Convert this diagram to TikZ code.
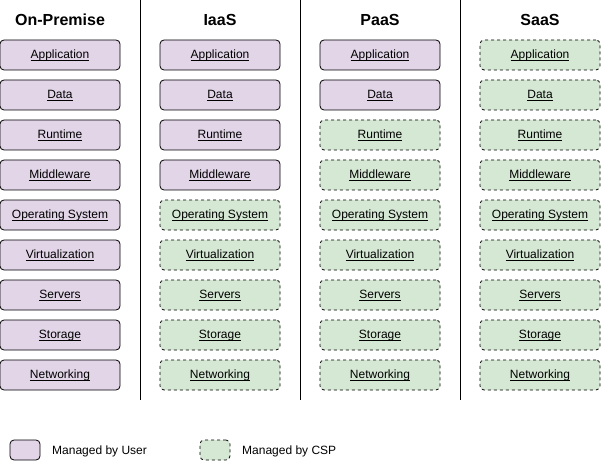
\documentclass[tikz,border=0pt]{standalone}
\usepackage{fontspec}
\setmainfont{Liberation Sans}
\definecolor{userfill}{HTML}{E1D5E7}
\definecolor{cspfill}{HTML}{D5E8D4}
\newcommand\myul[1]{\setbox0\hbox{#1}\rlap{\rule[-2.6pt]{\wd0}{0.7pt}}\box0}
\begin{document}
\begin{tikzpicture}[x=1pt,y=-1pt,
  layer/.style={draw=black, line width=0.8pt, rounded corners=4pt, minimum width=120pt, minimum height=30pt, inner sep=0pt, text height=9.5pt, text depth=2.5pt, font=\fontsize{12}{14}\selectfont},
  userbox/.style={layer, fill=userfill},
  cspbox/.style={layer, fill=cspfill, dash pattern=on 3pt off 3pt},
  header/.style={font=\fontsize{16}{19}\selectfont\bfseries, text height=12pt, text depth=3pt, inner sep=0pt},
  sep/.style={draw=black, line width=0.8pt},
  legbox/.style={draw=black, line width=0.8pt, rounded corners=4pt, minimum width=30pt, minimum height=20pt, inner sep=0pt},
  legtext/.style={anchor=west, font=\fontsize{12}{14}\selectfont, inner sep=0pt, text height=9.5pt, text depth=2.5pt}
]
\useasboundingbox (0,0) rectangle (601,462);
% headers
\node[header] (h0) at (60,21) {On-Premise};
\node[header] (h1) at (220,21) {IaaS};
\node[header] (h2) at (380,21) {PaaS};
\node[header] (h3) at (540,21) {SaaS};
% separators
\coordinate (s1a) at (140,0); \coordinate (s1b) at (140,400);
\coordinate (s2a) at (300,0); \coordinate (s2b) at (300,400);
\coordinate (s3a) at (460,0); \coordinate (s3b) at (460,400);
\draw[sep] (s1a) -- (s1b);
\draw[sep] (s2a) -- (s2b);
\draw[sep] (s3a) -- (s3b);
% layers
\foreach \col/\nuser in {0/9,1/4,2/2,3/0} {
  \foreach \lbl [count=\r from 0] in {Application,Data,Runtime,Middleware,Operating System,Virtualization,Servers,Storage,Networking} {
    \ifnum\r<\nuser
      \node[userbox] (c\col r\r) at ({60+160*\col},{55+40*\r}) {\myul{\lbl}};
    \else
      \node[cspbox] (c\col r\r) at ({60+160*\col},{55+40*\r}) {\myul{\lbl}};
    \fi
  }
}
% legend
\node[legbox, fill=userfill] (lu) at (25,450) {};
\node[legtext] (lut) at (52,451) {Managed by User};
\node[legbox, fill=cspfill, dash pattern=on 3pt off 3pt] (lc) at (215,450) {};
\node[legtext] (lct) at (242,451) {Managed by CSP};
\end{tikzpicture}
\end{document}
